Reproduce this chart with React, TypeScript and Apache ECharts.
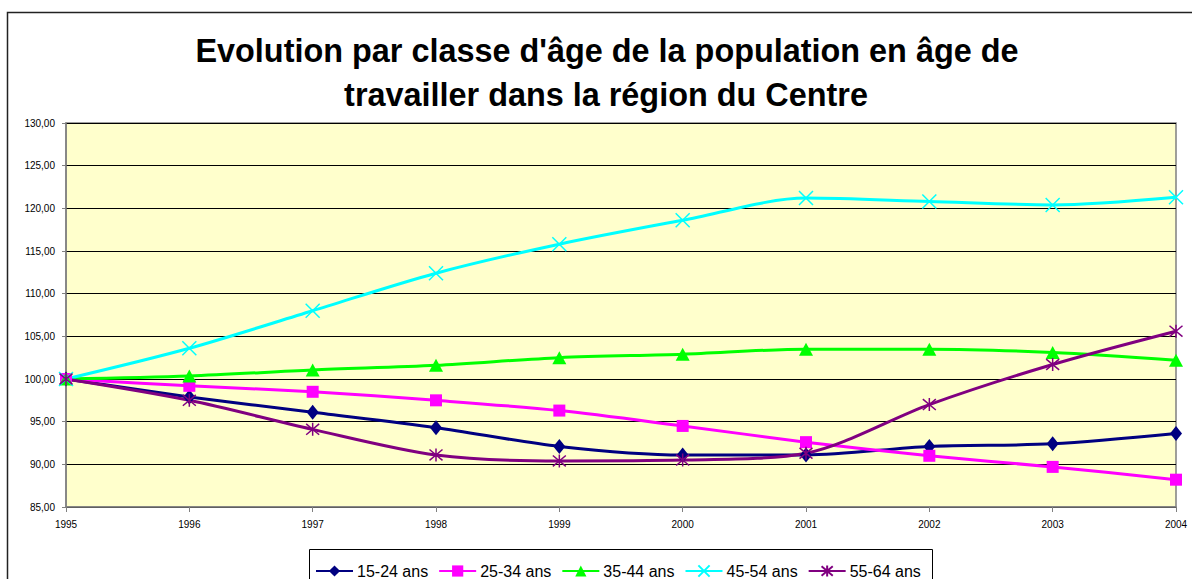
import React, { useEffect, useRef } from "react";
import * as echarts from "echarts";

const years = ["1995", "1996", "1997", "1998", "1999", "2000", "2001", "2002", "2003", "2004"];
const s1524 = [100, 97.9, 96.1, 94.3, 92.1, 91.1, 91.1, 92.1, 92.4, 93.6];
const s2534 = [100, 99.2, 98.5, 97.5, 96.3, 94.5, 92.6, 91.0, 89.7, 88.2];
const s3544 = [100, 100.35, 101.05, 101.6, 102.5, 102.9, 103.5, 103.5, 103.1, 102.2];
const s4554 = [100, 103.6, 108.0, 112.4, 115.8, 118.6, 121.2, 120.8, 120.4, 121.3];
const s5564 = [100, 97.5, 94.1, 91.1, 90.4, 90.5, 91.3, 97.0, 101.7, 105.6];
const seriesNames = ["15-24 ans", "25-34 ans", "35-44 ans", "45-54 ans", "55-64 ans"];
const titleLines = [
  "Evolution par classe d'âge de la population en âge de",
  "travailler dans la région du Centre",
];

const FONT = "Arial, 'Liberation Sans', Helvetica, sans-serif";

export default function App() {
  const ref = useRef<HTMLDivElement>(null);
  useEffect(() => {
    if (!ref.current) return;
    const chart = echarts.init(ref.current, null, { renderer: "svg" });
    const mk = (
      name: string,
      data: number[],
      color: string,
      symbol: string,
      size: number | number[],
      stroked: boolean
    ) => ({
      name,
      type: "line",
      data,
      smooth: 0.3,
      symbol,
      symbolSize: size,
      showAllSymbol: true,
      lineStyle: { color, width: 3 },
      itemStyle: stroked
        ? { color: "rgba(0,0,0,0)", borderColor: color, borderWidth: 1.5 }
        : { color, borderWidth: 0 },
      emphasis: { disabled: true },
    });
    chart.setOption({
      animation: false,
      graphic: [
        {
          type: "rect",
          shape: { x: 7.5, y: 12.5, width: 1200, height: 600 },
          style: { fill: "none", stroke: "#222", lineWidth: 1.5 },
          z: -10,
        },
        {
          type: "rect",
          shape: { x: 309.5, y: 549.5, width: 623, height: 45 },
          style: { fill: "#fff", stroke: "#000", lineWidth: 1 },
          z: 0,
        },
        {
          type: "text",
          x: 607,
          y: 51,
          style: {
            text: titleLines[0],
            font: `bold 32.4px ${FONT}`,
            fill: "#000",
            align: "center",
            verticalAlign: "middle",
          },
        },
        {
          type: "text",
          x: 606,
          y: 95,
          style: {
            text: titleLines[1],
            font: `bold 32.4px ${FONT}`,
            fill: "#000",
            align: "center",
            verticalAlign: "middle",
          },
        },
      ],
      grid: {
        left: 66,
        right: 16,
        top: 123,
        bottom: 72,
        show: true,
        backgroundColor: "#FFFFCC",
        borderColor: "#808080",
        borderWidth: 1.5,
      },
      legend: {
        left: 315,
        top: 563,
        padding: 0,
        itemWidth: 37,
        itemHeight: 14,
        itemGap: 10,
        textStyle: { fontSize: 16, color: "#000", fontFamily: FONT, padding: [0, 0, 0, -1] },
        data: seriesNames,
        z: 5,
      },
      xAxis: {
        type: "category",
        data: years,
        boundaryGap: false,
        axisLine: { lineStyle: { color: "#808080", width: 1.5 } },
        axisTick: { show: true, length: 5, lineStyle: { color: "#808080" }, alignWithLabel: true },
        axisLabel: { fontSize: 10, color: "#000", fontFamily: FONT, margin: 12 },
        splitLine: { show: false },
      },
      yAxis: {
        type: "value",
        min: 85,
        max: 130,
        interval: 5,
        axisLine: { show: true, lineStyle: { color: "#808080", width: 1.5 } },
        axisTick: { show: true, length: 4, lineStyle: { color: "#808080" } },
        axisLabel: {
          fontSize: 10,
          color: "#000",
          fontFamily: FONT,
          margin: 11,
          formatter: (v: number) => v.toFixed(2).replace(".", ","),
        },
        splitLine: { show: true, lineStyle: { color: "#000", width: 1 } },
      },
      series: [
        mk(seriesNames[0], s1524, "#000080", "diamond", [12, 15], false),
        mk(seriesNames[1], s2534, "#FF00FF", "rect", 12, false),
        mk(seriesNames[2], s3544, "#00FF00", "triangle", [14, 13], false),
        mk(seriesNames[3], s4554, "#00FFFF", "path://M0,0L10,10M10,0L0,10", 14, true),
        mk(seriesNames[4], s5564, "#800080", "path://M0,0L10,10M10,0L0,10M5,-1L5,11", 13, true),
      ],
    });
    return () => chart.dispose();
  }, []);
  return <div ref={ref} style={{ width: 1192, height: 579, position: "absolute", left: 0, top: 0 }} />;
}
